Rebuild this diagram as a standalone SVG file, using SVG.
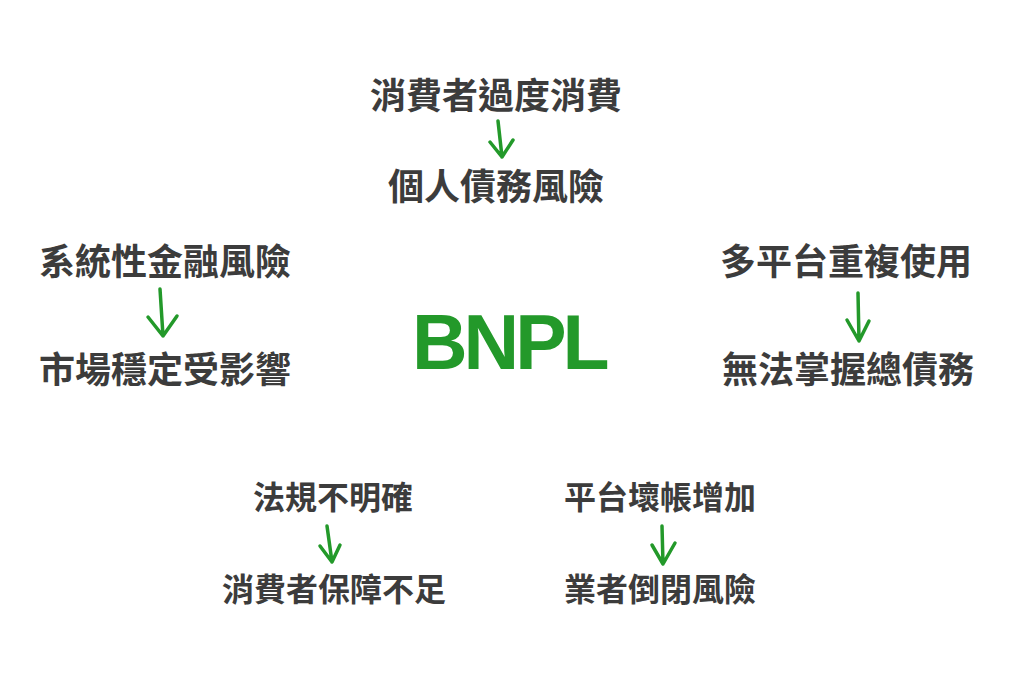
<svg xmlns="http://www.w3.org/2000/svg" width="1024" height="683" viewBox="0 0 1024 683">
<style>
.t{font-family:"Noto Sans CJK TC","Noto Sans CJK SC",sans-serif;font-weight:700;fill:#3c3c3c;text-anchor:middle}
.l{font-size:36px}
.s{font-size:32px}
.c{fill:none;stroke:#23992a;stroke-width:3.5;stroke-linecap:round;stroke-linejoin:round}
</style>
<rect width="1024" height="683" fill="#ffffff"/>
<g id="center"><text x="412" y="369" font-family="'Liberation Sans',Arial,sans-serif" font-weight="700" font-size="77" letter-spacing="-4" fill="#23992a">BNPL</text></g>
<g id="n1"><text class="t l" x="496" y="109">消費者過度消費</text></g>
<g id="n2"><text class="t l" x="496" y="200">個人債務風險</text></g>
<g id="n3"><text class="t l" x="165" y="275">系統性金融風險</text></g>
<g id="n4"><text class="t l" x="165" y="383">市場穩定受影響</text></g>
<g id="n5"><text class="t l" x="846" y="275">多平台重複使用</text></g>
<g id="n6"><text class="t l" x="848" y="383">無法掌握總債務</text></g>
<g id="n7"><text class="t s" x="333" y="509">法規不明確</text></g>
<g id="n8"><text class="t s" x="334" y="601">消費者保障不足</text></g>
<g id="n9"><text class="t s" x="660" y="509">平台壞帳增加</text></g>
<g id="n10"><text class="t s" x="660" y="601">業者倒閉風險</text></g>
<g id="connectors">
<path class="c" d="M498 121 L502 157 M490 142 L502 157 L513 140"/>
<path class="c" d="M160 289 L163 336 M148 317 L163 336 L177 316"/>
<path class="c" d="M858 293 L859 341 M847 320 L859 341 L869 321"/>
<path class="c" d="M327 526 L332 562 M320 546 L332 562 L340 545"/>
<path class="c" d="M662 526 L663 564 M652 545 L663 564 L675 543"/>
</g>
</svg>
